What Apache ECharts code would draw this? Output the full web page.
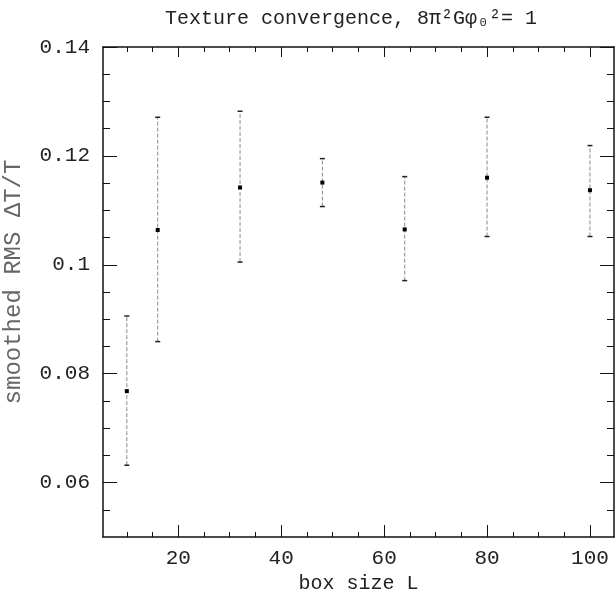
<!DOCTYPE html>
<html>
<head>
<meta charset="utf-8">
<script src="https://cdn.jsdelivr.net/npm/echarts@6/dist/echarts.min.js"></script>
<style>html,body{margin:0;padding:0;background:#fff}#c{width:616px;height:599px}</style>
</head>
<body>
<div id="c"></div>
<script>
const titleText = 'Texture convergence, 8\u03c0\u00b2G\u03c6\u2080\u00b2= 1';
const xName = 'box size L';
const yName = 'smoothed RMS \u0394T/T';
const boxSizes = [10, 16, 32, 48, 64, 80, 100];
const rmsMean  = [0.0768, 0.1064, 0.1142, 0.1151, 0.1065, 0.1160, 0.1137];
const rmsUpper = [0.0906, 0.1271, 0.1282, 0.1195, 0.1162, 0.1271, 0.1219];
const rmsLower = [0.0632, 0.0859, 0.1005, 0.1107, 0.0971, 0.1052, 0.1052];
const xMajorTicks = [20, 40, 60, 80, 100];
const xMinorTicks = [10, 15, 25, 30, 35, 45, 50, 55, 65, 70, 75, 85, 90, 95];
const yMajorTicks = [0.06, 0.08, 0.1, 0.12, 0.14];
const yMinorTicks = [0.055, 0.065, 0.07, 0.075, 0.085, 0.09, 0.095, 0.105, 0.11, 0.115, 0.125, 0.13, 0.135];

const X_MIN = 5.37, X_MAX = 104.67, Y_MIN = 0.05, Y_MAX = 0.14;
const FONT = '"Liberation Mono", monospace';
const lineCol = '#111';

function xAx(pos, ticks, len, labels, showLine) {
  return {
    type: 'value', position: pos, min: X_MIN, max: X_MAX,
    splitLine: {show: false},
    axisLine: {show: showLine, onZero: false, lineStyle: {color: lineCol, width: 1.5}},
    axisTick: {show: true, inside: true, length: len, customValues: ticks, lineStyle: {color: lineCol, width: 1}},
    axisLabel: labels ? {show: true, customValues: ticks, margin: 11, color: '#222', fontFamily: FONT, fontSize: 21} : {show: false}
  };
}
function yAx(pos, ticks, len, labels, showLine) {
  return {
    type: 'value', position: pos, min: Y_MIN, max: Y_MAX,
    splitLine: {show: false},
    axisLine: {show: showLine, onZero: false, lineStyle: {color: lineCol, width: 1.5}},
    axisTick: {show: true, inside: true, length: len, customValues: ticks, lineStyle: {color: lineCol, width: 1}},
    axisLabel: labels ? {show: true, customValues: ticks, margin: 13, color: '#222', fontFamily: FONT, fontSize: 21,
      formatter: v => String(+v.toFixed(3))} : {show: false}
  };
}

const xAxes = [xAx('bottom', xMajorTicks, 12, true, true), xAx('bottom', xMinorTicks, 5, false, false),
               xAx('top', xMajorTicks, 10, false, true), xAx('top', xMinorTicks, 5, false, false)];
xAxes[0].name = xName;
xAxes[0].nameLocation = 'middle';
xAxes[0].nameGap = 34;
xAxes[0].nameTextStyle = {fontFamily: FONT, fontSize: 20, color: '#222'};

const yAxes = [yAx('left', yMajorTicks, 14, true, true), yAx('left', yMinorTicks, 7, false, false),
               yAx('right', yMajorTicks, 14, false, true), yAx('right', yMinorTicks, 7, false, false)];

const data = boxSizes.map((b, i) => [b, rmsMean[i], rmsLower[i], rmsUpper[i]]);

const chart = echarts.init(document.getElementById('c'), null, {renderer: 'canvas'});
chart.setOption({
  backgroundColor: '#fff',
  animation: false,
  title: {text: titleText, left: 346, top: 4, textAlign: 'center',
    textStyle: {fontFamily: FONT, fontSize: 20, fontWeight: 'normal', color: '#222'}},
  grid: {left: 103, right: 2, top: 47, bottom: 55},
  xAxis: xAxes,
  yAxis: yAxes,
  graphic: [{
    type: 'text', rotation: Math.PI / 2,
    x: 14, y: 282,
    style: {text: yName, fontFamily: FONT, fontSize: 24, fill: '#666', align: 'center', verticalAlign: 'middle'}
  }],
  series: [{
    type: 'custom',
    xAxisIndex: 0, yAxisIndex: 0,
    data: data,
    renderItem: function (params, api) {
      const x = api.value(0);
      const m = api.coord([x, api.value(1)]);
      const lo = api.coord([x, api.value(2)]);
      const hi = api.coord([x, api.value(3)]);
      return {type: 'group', children: [
        {type: 'line', shape: {x1: lo[0], y1: lo[1], x2: hi[0], y2: hi[1]},
          style: {stroke: '#8a8a8a', lineWidth: 1, lineDash: [4, 2]}},
        {type: 'line', shape: {x1: lo[0] - 2.5, y1: lo[1], x2: lo[0] + 2.5, y2: lo[1]},
          style: {stroke: '#222', lineWidth: 1.5}},
        {type: 'line', shape: {x1: hi[0] - 2.5, y1: hi[1], x2: hi[0] + 2.5, y2: hi[1]},
          style: {stroke: '#222', lineWidth: 1.5}},
        {type: 'rect', shape: {x: m[0] - 2, y: m[1] - 2, width: 4, height: 4},
          style: {fill: '#000'}}
      ]};
    }
  }]
});
</script>
</body>
</html>
